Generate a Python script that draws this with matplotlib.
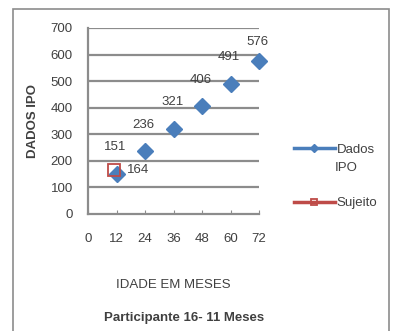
import matplotlib.pyplot as plt
from matplotlib.patches import Rectangle
from matplotlib.lines import Line2D

plt.rcParams['font.family'] = ['Liberation Sans', 'DejaVu Sans']

# dados do grafico
idade = [12, 24, 36, 48, 60, 72]
ipo = [151, 236, 321, 406, 491, 576]
sujeito_x = [11]
sujeito_y = [164]
xticks = [0, 12, 24, 36, 48, 60, 72]
yticks = [0, 100, 200, 300, 400, 500, 600, 700]

blue = '#4A7EBB'
red = '#BE4B48'
grey = '#8C8C8C'
txt = '#404040'

fig = plt.figure(figsize=(3.93, 3.31), dpi=100)
ax = fig.add_axes([88 / 393, 1 - 214 / 331, 171 / 393, 186 / 331])

ax.plot(idade, ipo, color=blue, ls='none', marker='D', ms=8.5,
        zorder=3, clip_on=False)
ax.plot(sujeito_x, sujeito_y, color=red, ls='none', marker='s', ms=8,
        mfc='none', mec=red, mew=1.3, zorder=4, clip_on=False)

for x, y in zip(idade, ipo):
    dy = 14 if x == 72 else 19
    ax.annotate(str(y), (x, y), xytext=(-1, dy), textcoords='offset points',
                ha='center', va='center', fontsize=9.5, color=txt)
for x, y in zip(sujeito_x, sujeito_y):
    ax.annotate(str(y), (x, y), xytext=(17, 0), textcoords='offset points',
                ha='center', va='center', fontsize=9.5, color=txt)

ax.set_xlim(0, 72)
ax.set_ylim(0, 700)
ax.set_xticks(xticks)
ax.set_yticks(yticks)
ax.tick_params(axis='x', direction='in', length=3, color=grey, pad=14,
               labelsize=9.5, labelcolor=txt)
ax.tick_params(axis='y', length=0, pad=11, labelsize=9.5, labelcolor=txt)
for v in yticks[1:]:
    ax.axhline(v, color=grey, lw=1.6, zorder=1)
for s in ['top', 'right']:
    ax.spines[s].set_visible(False)
for s in ['left', 'bottom']:
    ax.spines[s].set_color(grey)
    ax.spines[s].set_linewidth(1.6)

ax.set_ylabel('DADOS IPO', fontsize=9.5, fontweight='bold', color=txt, labelpad=8)
ax.set_xlabel('IDADE EM MESES', fontsize=9.5, color=txt, labelpad=24)
fig.text(0.468, 1 - 318 / 331, 'Participante 16- 11 Meses', fontsize=9.5,
         fontweight='bold', color=txt, ha='center', va='center')

handles = [Line2D([], [], color=blue, lw=2.5, marker='D', ms=4),
           Line2D([], [], color=red, lw=2.5, marker='s', ms=5, mfc='none',
                  mec=red, mew=1.3)]
leg = fig.legend(handles, ['Dados', 'Sujeito'], loc='upper left',
                 bbox_to_anchor=(282 / 393, 1 - 132 / 331),
                 frameon=False, fontsize=9.5, handlelength=3.1, labelspacing=3.1,
                 handletextpad=0.15)
for t in leg.get_texts():
    t.set_color(txt)
# segunda linha do rotulo "Dados IPO"
fig.text(335 / 393, 1 - 168 / 331, 'IPO', fontsize=9.5, color=txt,
         ha='left', va='center')

fig.patches.append(Rectangle((13 / 393, -0.01), 376 / 393, 1 - 9 / 331 + 0.01,
                             transform=fig.transFigure, fill=False,
                             edgecolor=grey, lw=1.2))

fig.savefig('out.png', dpi=100)
